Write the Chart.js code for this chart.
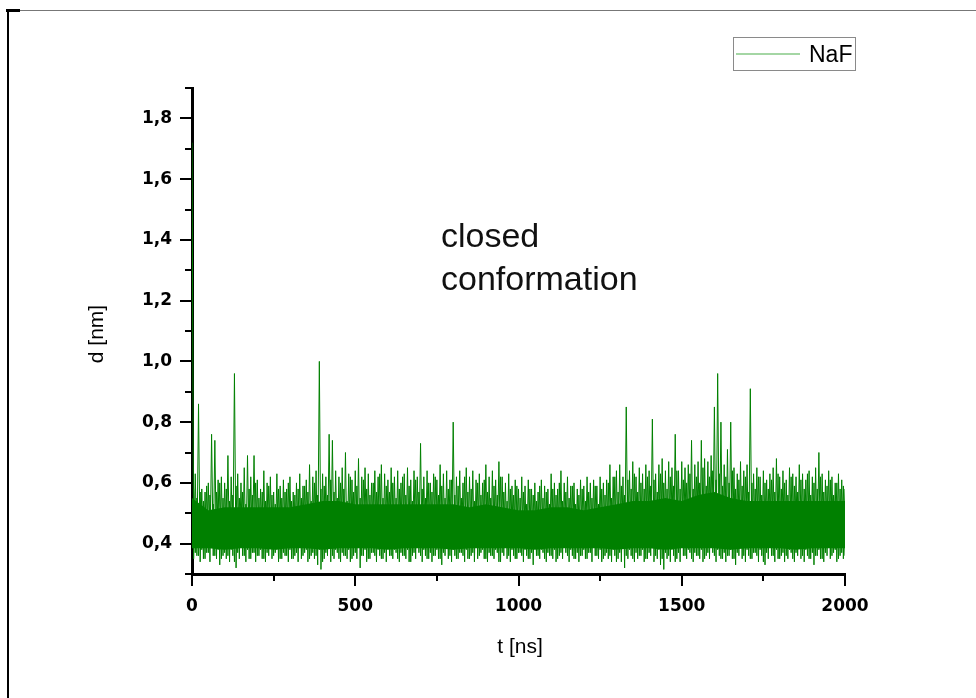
<!DOCTYPE html>
<html>
<head>
<meta charset="utf-8">
<script src="https://cdn.jsdelivr.net/npm/chart.js@4/dist/chart.umd.min.js"></script>
<style>
  html, body { margin: 0; padding: 0; background: #fff; }
  canvas { display: block; }
</style>
</head>
<body>
<canvas id="chart" width="976" height="698"></canvas>
<script>
// distance trace: peaks every 10 ns, troughs in between
const peakTimes = [];
for (let t = 0; t <= 2000; t += 10) peakTimes.push(t);
const peakValues = [
  1.72, 0.63, 0.86, 0.58, 0.57, 0.60, 0.76, 0.74, 0.61, 0.62,
  0.60, 0.69, 0.62, 0.96, 0.63, 0.60, 0.65, 0.69, 0.62, 0.69,
  0.61, 0.58, 0.64, 0.60, 0.62, 0.57, 0.63, 0.59, 0.61, 0.58,
  0.62, 0.57, 0.60, 0.63, 0.59, 0.61, 0.66, 0.62, 0.64, 1.00,
  0.63, 0.62, 0.76, 0.74, 0.64, 0.62, 0.65, 0.70, 0.63, 0.61,
  0.64, 0.68, 0.62, 0.65, 0.63, 0.60, 0.64, 0.62, 0.66, 0.63,
  0.61, 0.65, 0.62, 0.64, 0.60, 0.63, 0.65, 0.61, 0.64, 0.62,
  0.73, 0.62, 0.64, 0.60, 0.63, 0.61, 0.66, 0.63, 0.64, 0.61,
  0.80, 0.62, 0.64, 0.60, 0.65, 0.62, 0.64, 0.61, 0.63, 0.60,
  0.66, 0.62, 0.64, 0.61, 0.67, 0.62, 0.60, 0.63, 0.59, 0.61,
  0.58, 0.62, 0.59, 0.61, 0.58, 0.60, 0.57, 0.61, 0.59, 0.58,
  0.63, 0.60, 0.58, 0.64, 0.60, 0.62, 0.59, 0.60, 0.58, 0.61,
  0.59, 0.62, 0.60, 0.61, 0.59, 0.62, 0.60, 0.61, 0.66, 0.62,
  0.64, 0.66, 0.62, 0.85, 0.64, 0.67, 0.62, 0.65, 0.63, 0.66,
  0.64, 0.81, 0.63, 0.66, 0.68, 0.64, 0.67, 0.65, 0.76, 0.64,
  0.67, 0.65, 0.66, 0.74, 0.66, 0.67, 0.74, 0.68, 0.67, 0.69,
  0.85, 0.96, 0.80, 0.66, 0.71, 0.80, 0.65, 0.63, 0.67, 0.64,
  0.66, 0.91, 0.63, 0.65, 0.62, 0.64, 0.61, 0.63, 0.65, 0.68,
  0.62, 0.64, 0.61, 0.65, 0.63, 0.62, 0.66, 0.63, 0.61, 0.64,
  0.62, 0.65, 0.70, 0.63, 0.61, 0.64, 0.62, 0.60, 0.63, 0.61,
  0.58
];
const troughTimes = [];
for (let t = 5; t < 2000; t += 10) troughTimes.push(t);
const troughValues = [
  0.35, 0.36, 0.34, 0.35, 0.37, 0.34, 0.36, 0.35, 0.33, 0.36, 0.35, 0.34, 0.36, 0.32, 0.35, 0.36, 0.34, 0.35, 0.37, 0.34,
  0.36, 0.35, 0.34, 0.36, 0.35, 0.37, 0.34, 0.35, 0.36, 0.34, 0.35, 0.36, 0.34, 0.35, 0.37, 0.34, 0.36, 0.35, 0.33, 0.315,
  0.35, 0.36, 0.34, 0.35, 0.37, 0.34, 0.36, 0.35, 0.34, 0.36, 0.35, 0.32, 0.36, 0.34, 0.35, 0.37, 0.34, 0.36, 0.35, 0.34,
  0.36, 0.35, 0.37, 0.34, 0.36, 0.35, 0.34, 0.36, 0.35, 0.37, 0.34, 0.36, 0.35, 0.34, 0.36, 0.35, 0.33, 0.36, 0.35, 0.34,
  0.36, 0.35, 0.37, 0.34, 0.35, 0.36, 0.34, 0.35, 0.37, 0.35, 0.34, 0.36, 0.35, 0.37, 0.34, 0.36, 0.35, 0.34, 0.36, 0.35,
  0.37, 0.34, 0.36, 0.35, 0.33, 0.36, 0.35, 0.37, 0.34, 0.36, 0.35, 0.34, 0.36, 0.35, 0.37, 0.34, 0.36, 0.35, 0.34, 0.36,
  0.35, 0.37, 0.34, 0.36, 0.35, 0.34, 0.36, 0.35, 0.34, 0.36, 0.35, 0.34, 0.32, 0.35, 0.36, 0.34, 0.35, 0.36, 0.34, 0.35,
  0.36, 0.34, 0.35, 0.33, 0.315, 0.35, 0.34, 0.36, 0.35, 0.34, 0.36, 0.35, 0.37, 0.34, 0.36, 0.35, 0.34, 0.36, 0.35, 0.37,
  0.34, 0.36, 0.35, 0.34, 0.36, 0.35, 0.33, 0.36, 0.35, 0.34, 0.36, 0.35, 0.37, 0.34, 0.36, 0.33, 0.35, 0.36, 0.34, 0.35,
  0.36, 0.34, 0.35, 0.37, 0.34, 0.36, 0.35, 0.34, 0.36, 0.35, 0.33, 0.36, 0.35, 0.34, 0.36, 0.35, 0.37, 0.34, 0.36, 0.35
];

// second, interleaved run of the same trace: peaks at 5 + 10k ns, troughs at 10 + 10k ns
const peakTimes2 = troughTimes;
const peakValues2 = [
  0.58, 0.55, 0.57, 0.54, 0.59, 0.56, 0.53, 0.57, 0.60, 0.55, 0.58, 0.54, 0.56, 0.59, 0.55, 0.57, 0.53, 0.58, 0.56, 0.60,
  0.55, 0.57, 0.54, 0.59, 0.56, 0.53, 0.58, 0.55, 0.57, 0.60, 0.54, 0.56, 0.58, 0.55, 0.59, 0.57, 0.54, 0.60, 0.56, 0.58,
  0.59, 0.56, 0.61, 0.57, 0.55, 0.60, 0.58, 0.54, 0.62, 0.57, 0.59, 0.55, 0.61, 0.58, 0.56, 0.60, 0.57, 0.63, 0.55, 0.59,
  0.57, 0.60, 0.55, 0.58, 0.62, 0.56, 0.59, 0.54, 0.61, 0.57, 0.58, 0.55, 0.60, 0.57, 0.62, 0.56, 0.59, 0.55, 0.58, 0.61,
  0.56, 0.59, 0.55, 0.62, 0.57, 0.58, 0.54, 0.60, 0.56, 0.61, 0.57, 0.55, 0.59, 0.56, 0.62, 0.57, 0.54, 0.58, 0.56, 0.59,
  0.55, 0.57, 0.53, 0.58, 0.56, 0.54, 0.59, 0.55, 0.57, 0.53, 0.58, 0.56, 0.60, 0.54, 0.57, 0.55, 0.59, 0.53, 0.56, 0.58,
  0.54, 0.57, 0.55, 0.59, 0.53, 0.58, 0.56, 0.60, 0.55, 0.62, 0.57, 0.59, 0.56, 0.61, 0.58, 0.63, 0.57, 0.60, 0.58, 0.62,
  0.59, 0.61, 0.57, 0.63, 0.60, 0.58, 0.62, 0.59, 0.64, 0.58, 0.61, 0.60, 0.63, 0.58, 0.62, 0.60, 0.65, 0.59, 0.62, 0.64,
  0.61, 0.63, 0.59, 0.62, 0.60, 0.64, 0.58, 0.61, 0.59, 0.62, 0.57, 0.60, 0.58, 0.62, 0.56, 0.60, 0.58, 0.61, 0.57, 0.63,
  0.58, 0.60, 0.56, 0.62, 0.59, 0.57, 0.61, 0.58, 0.63, 0.56, 0.60, 0.58, 0.62, 0.57, 0.59, 0.61, 0.56, 0.60, 0.58, 0.59
];
const troughTimes2 = peakTimes.slice(1);
const troughValues2 = [
  0.37, 0.36, 0.38, 0.35, 0.37, 0.39, 0.36, 0.38, 0.35, 0.37, 0.36, 0.38, 0.34, 0.37, 0.39, 0.36, 0.38, 0.35, 0.37, 0.36,
  0.38, 0.35, 0.37, 0.39, 0.36, 0.38, 0.35, 0.37, 0.36, 0.38, 0.35, 0.37, 0.39, 0.36, 0.38, 0.35, 0.37, 0.36, 0.38, 0.34,
  0.37, 0.39, 0.36, 0.38, 0.35, 0.37, 0.36, 0.38, 0.35, 0.37, 0.39, 0.36, 0.38, 0.35, 0.37, 0.36, 0.38, 0.35, 0.37, 0.39,
  0.36, 0.38, 0.35, 0.37, 0.36, 0.38, 0.34, 0.37, 0.39, 0.36, 0.38, 0.35, 0.37, 0.36, 0.38, 0.35, 0.37, 0.39, 0.36, 0.38,
  0.35, 0.37, 0.36, 0.38, 0.35, 0.37, 0.39, 0.36, 0.38, 0.35, 0.37, 0.36, 0.38, 0.34, 0.37, 0.39, 0.36, 0.38, 0.35, 0.37,
  0.36, 0.38, 0.35, 0.37, 0.39, 0.36, 0.38, 0.35, 0.37, 0.36, 0.38, 0.35, 0.37, 0.39, 0.36, 0.38, 0.35, 0.37, 0.36, 0.38,
  0.35, 0.37, 0.39, 0.36, 0.38, 0.35, 0.37, 0.36, 0.38, 0.34, 0.37, 0.39, 0.36, 0.38, 0.35, 0.37, 0.36, 0.38, 0.35, 0.37,
  0.39, 0.36, 0.38, 0.35, 0.37, 0.36, 0.38, 0.34, 0.37, 0.39, 0.36, 0.38, 0.35, 0.37, 0.36, 0.38, 0.35, 0.37, 0.39, 0.36,
  0.38, 0.35, 0.37, 0.36, 0.38, 0.35, 0.37, 0.39, 0.36, 0.38, 0.35, 0.37, 0.36, 0.38, 0.34, 0.37, 0.39, 0.36, 0.38, 0.35,
  0.37, 0.36, 0.38, 0.35, 0.37, 0.39, 0.36, 0.38, 0.35, 0.37, 0.36, 0.38, 0.35, 0.37, 0.39, 0.36, 0.38, 0.35, 0.37, 0.36
];

// dense core of the band (solid green), every 50 ns
const coreTimes = [];
for (let t = 0; t <= 2000; t += 50) coreTimes.push(t);
const coreUpper = [
  0.55, 0.51, 0.52, 0.52, 0.52, 0.52, 0.52, 0.53, 0.54, 0.54,
  0.53, 0.53, 0.53, 0.53, 0.53, 0.53, 0.53, 0.52, 0.53, 0.52,
  0.51, 0.51, 0.52, 0.52, 0.51, 0.52, 0.53, 0.54, 0.54, 0.55,
  0.54, 0.56, 0.57, 0.55, 0.54, 0.54, 0.54, 0.54, 0.54, 0.54,
  0.54
];
const coreLower = [
  0.385, 0.385, 0.38, 0.385, 0.385, 0.38, 0.385, 0.385, 0.38, 0.385,
  0.385, 0.385, 0.38, 0.385, 0.385, 0.385, 0.38, 0.385, 0.385, 0.385,
  0.385, 0.38, 0.385, 0.385, 0.385, 0.385, 0.38, 0.385, 0.385, 0.38,
  0.385, 0.385, 0.385, 0.38, 0.385, 0.385, 0.385, 0.38, 0.385, 0.385,
  0.385
];

const yTickValues = [0.4, 0.6, 0.8, 1.0, 1.2, 1.4, 1.6, 1.8];
const yMinorValues = [0.3, 0.5, 0.7, 0.9, 1.1, 1.3, 1.5, 1.7, 1.9];
const xTickValues = [0, 500, 1000, 1500, 2000];
const xMinorValues = [250, 750, 1250, 1750];

const seriesName = 'NaF';
const green = '#008000';

// interleave peaks and troughs into a zigzag trace
function zigzag(pt, pv, tt, tv) {
  const out = [];
  pt.forEach((t, i) => {
    out.push({ x: t, y: pv[i] });
    if (i < tt.length) out.push({ x: tt[i], y: tv[i] });
  });
  return out;
}
const trace = zigzag(peakTimes, peakValues, troughTimes, troughValues);
const trace2 = zigzag(peakTimes2, peakValues2, troughTimes2, troughValues2);

const decorations = {
  id: 'decorations',
  beforeDraw(chart) {
    const ctx = chart.ctx;
    ctx.save();
    // page frame
    ctx.strokeStyle = '#777';
    ctx.lineWidth = 1;
    ctx.beginPath();
    ctx.moveTo(8, 10.5);
    ctx.lineTo(976, 10.5);
    ctx.stroke();
    ctx.strokeStyle = '#000';
    ctx.lineWidth = 2;
    ctx.beginPath();
    ctx.moveTo(8, 10);
    ctx.lineTo(8, 698);
    ctx.stroke();
    ctx.fillStyle = '#000';
    ctx.fillRect(6, 9, 14, 3);
    ctx.restore();
  },
  afterDraw(chart) {
    const ctx = chart.ctx;
    const xs = chart.scales.x, ys = chart.scales.y;
    const a = chart.chartArea;
    ctx.save();
    // minor ticks
    ctx.strokeStyle = '#000';
    ctx.lineWidth = 2;
    ctx.beginPath();
    yMinorValues.forEach(v => {
      const py = Math.round(ys.getPixelForValue(v));
      ctx.moveTo(a.left - 7, py);
      ctx.lineTo(a.left, py);
    });
    xMinorValues.forEach(v => {
      const px = Math.round(xs.getPixelForValue(v));
      ctx.moveTo(px, a.bottom);
      ctx.lineTo(px, a.bottom + 7);
    });
    ctx.stroke();

    // axis titles
    ctx.fillStyle = '#000';
    ctx.font = '21px "Liberation Sans", Arial, sans-serif';
    ctx.textAlign = 'center';
    ctx.textBaseline = 'middle';
    ctx.fillText('t [ns]', 520, 647);
    ctx.save();
    ctx.translate(97, 334);
    ctx.rotate(-Math.PI / 2);
    ctx.fillText('d [nm]', 0, 0);
    ctx.restore();

    // annotation
    ctx.font = '34px "Liberation Sans", Arial, sans-serif';
    ctx.textAlign = 'left';
    ctx.textBaseline = 'alphabetic';
    ctx.fillStyle = '#111';
    ctx.fillText('closed', 441, 247);
    ctx.fillText('conformation', 441, 290);

    // legend box
    ctx.fillStyle = '#fff';
    ctx.fillRect(733, 37, 123, 34);
    ctx.strokeStyle = '#8a8a8a';
    ctx.lineWidth = 1;
    ctx.strokeRect(733.5, 37.5, 122, 33);
    ctx.strokeStyle = '#86c986';
    ctx.lineWidth = 1.5;
    ctx.beginPath();
    ctx.moveTo(736, 54);
    ctx.lineTo(800, 54);
    ctx.stroke();
    ctx.fillStyle = '#000';
    ctx.font = '23px "Liberation Sans", Arial, sans-serif';
    ctx.fillText(seriesName, 809, 62);
    ctx.restore();
  }
};

new Chart(document.getElementById('chart'), {
  type: 'line',
  data: {
    datasets: [
      {
        label: seriesName,
        data: trace,
        borderColor: green,
        borderWidth: 1,
        pointRadius: 0,
        tension: 0,
        fill: false
      },
      {
        label: seriesName + ' (2)',
        data: trace2,
        borderColor: green,
        borderWidth: 1,
        pointRadius: 0,
        tension: 0,
        fill: false
      },
      {
        label: 'core lower',
        data: coreTimes.map((t, i) => ({ x: t, y: coreLower[i] })),
        borderWidth: 0,
        pointRadius: 0,
        fill: false
      },
      {
        label: 'core upper',
        data: coreTimes.map((t, i) => ({ x: t, y: coreUpper[i] })),
        borderWidth: 0,
        pointRadius: 0,
        backgroundColor: green,
        fill: '-1'
      }
    ]
  },
  options: {
    responsive: false,
    animation: false,
    devicePixelRatio: 1,
    layout: { padding: { left: 0, right: 131, top: 88, bottom: 0 } },
    plugins: {
      legend: { display: false },
      tooltip: { enabled: false }
    },
    scales: {
      x: {
        type: 'linear',
        min: 0,
        max: 2000,
        afterFit: (scale) => { scale.height = 124; },
        afterBuildTicks: (scale) => { scale.ticks = xTickValues.map(v => ({ value: v })); },
        border: { display: true, color: '#000', width: 3 },
        grid: { display: true, drawOnChartArea: false, drawTicks: true, tickLength: 12, color: '#000', lineWidth: 2 },
        ticks: {
          padding: 10,
          color: '#000',
          font: { family: '"DejaVu Sans", sans-serif', size: 17, weight: 'bold' },
          maxRotation: 0,
          callback: (v) => String(v)
        }
      },
      y: {
        type: 'linear',
        min: 0.3,
        max: 1.9,
        afterFit: (scale) => { scale.width = 192; },
        afterBuildTicks: (scale) => { scale.ticks = yTickValues.map(v => ({ value: v })); },
        border: { display: true, color: '#000', width: 3 },
        grid: { display: true, drawOnChartArea: false, drawTicks: true, tickLength: 12, color: '#000', lineWidth: 2 },
        ticks: {
          padding: 8,
          color: '#000',
          font: { family: '"DejaVu Sans", sans-serif', size: 17, weight: 'bold' },
          callback: (v) => v.toFixed(1).replace('.', ',')
        }
      }
    }
  },
  plugins: [decorations]
});
</script>
</body>
</html>
